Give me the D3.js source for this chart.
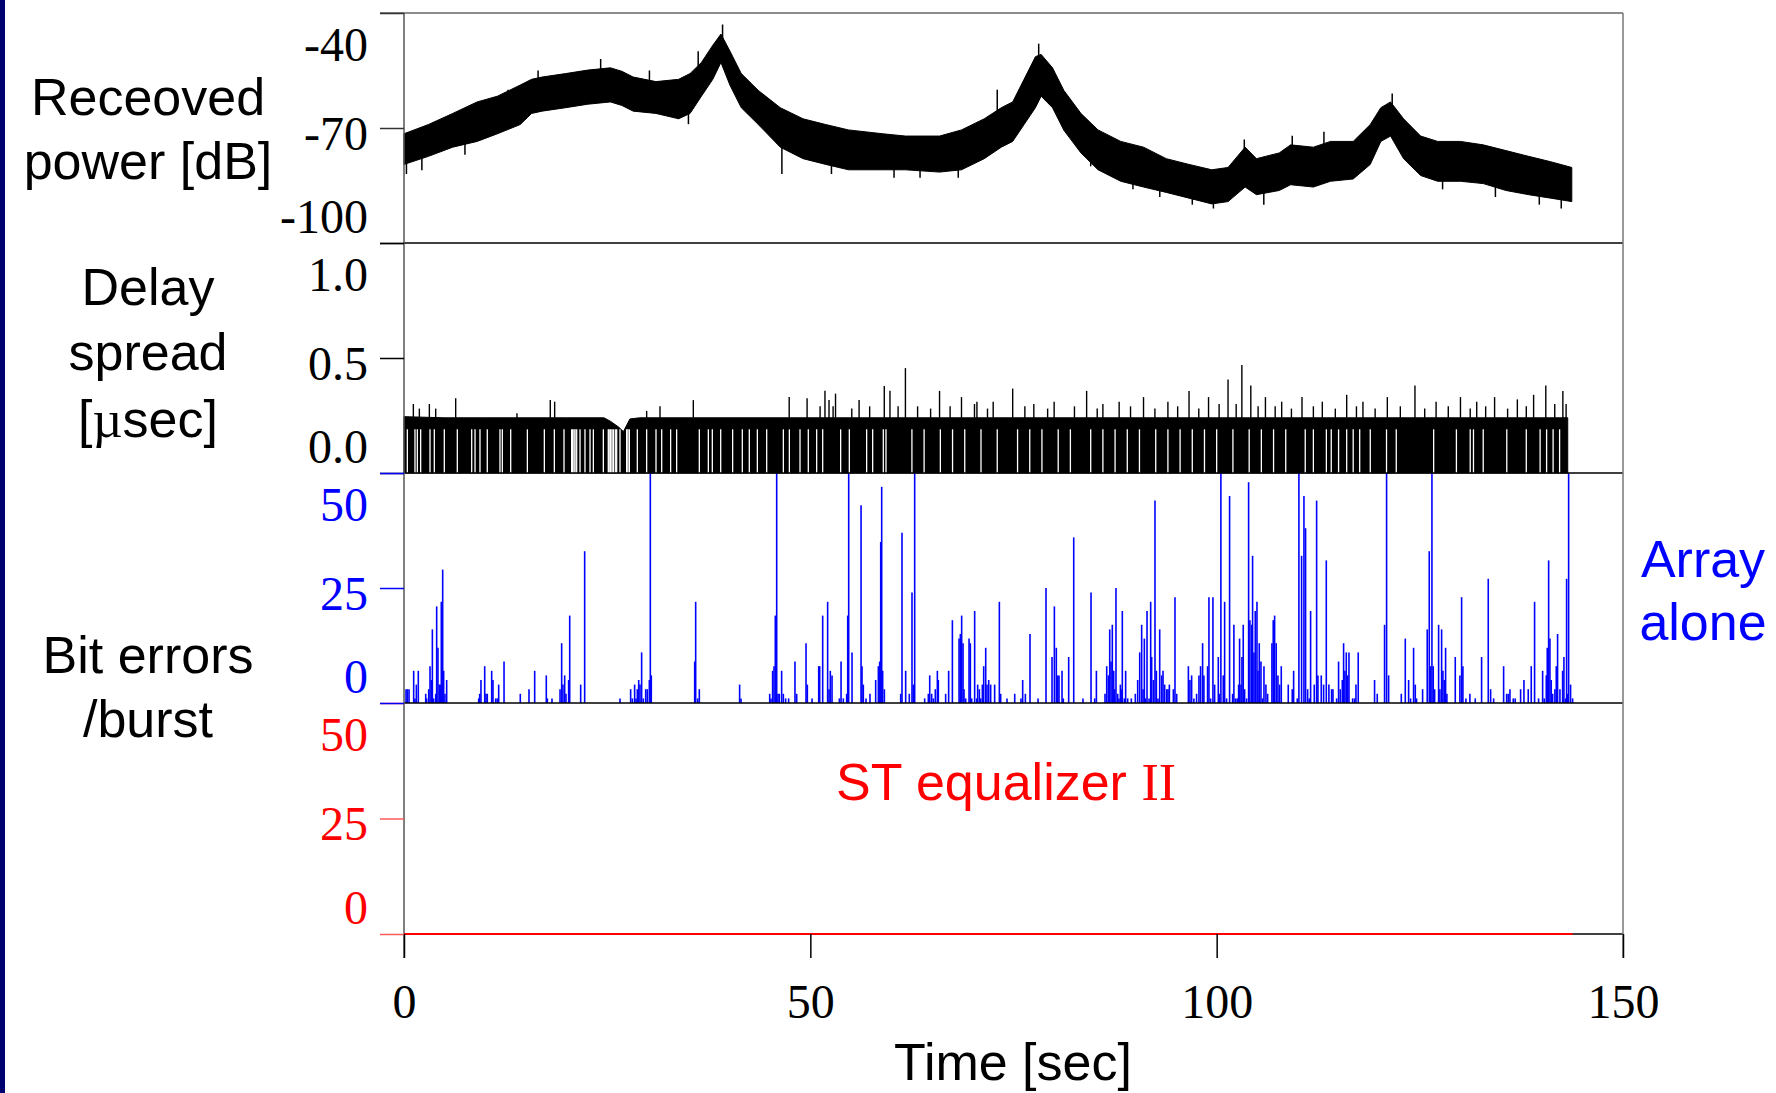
<!DOCTYPE html>
<html lang="en">
<head>
<meta charset="utf-8">
<title>Received power, delay spread and bit errors</title>
<script src="https://d3js.org/d3.v7.min.js"></script>
<style>
  body { margin: 0; background: #fff; }
  svg { display: block; }
</style>
</head>
<body>
<div id="chart"></div>
<script>

// ---- data ----

// received power band: time [s], upper and lower edge [dB]
var powT  = [0,3,6,9,11.5,14.3,15.7,17,19.9,22.6,25.4,26.8,28.2,31,33.8,35.2,36.6,38,39,40.1,41.5,43.6,46.3,49.1,51.9,54.7,58.9,61.7,65.9,68.6,71.4,73.5,74.9,76.3,77.7,78.4,79.8,81.2,83.3,85.4,88.2,91,93.8,96.6,99.4,101.4,103.5,104.9,107.7,109.1,111.9,114,116.8,118.9,120.2,121.4,123,125.1,127.2,130,132.8,135.6,138.4,141.1,143.7];
var powHi = [-71.5,-69.1,-66.2,-63.2,-61.7,-58.8,-57.3,-56.7,-55.8,-54.9,-54.3,-55.2,-56.7,-57.9,-57.3,-55.8,-52.9,-48.4,-45.5,-49.9,-55.8,-60.2,-64.7,-67.6,-69.1,-70.5,-71.5,-72.1,-72.1,-70.5,-67.6,-64.7,-63.2,-57.3,-51.4,-50.8,-54.3,-60.2,-66.2,-70.5,-73.5,-75.0,-78.0,-79.5,-80.9,-80.3,-75.0,-78.0,-76.5,-74.4,-75.0,-73.5,-73.5,-69.1,-64.7,-63.2,-67.6,-72.1,-73.5,-73.5,-74.4,-75.9,-77.4,-78.8,-80.3];
var powLo = [-79.5,-77.4,-75.0,-73.5,-71.5,-69.1,-66.2,-65.6,-64.7,-63.8,-63.2,-64.1,-65.6,-66.2,-67.6,-66.2,-61.7,-57.3,-52.9,-58.8,-64.7,-69.1,-75.0,-78.0,-79.5,-80.9,-80.9,-80.9,-81.5,-80.9,-78.0,-75.0,-73.5,-69.1,-64.7,-61.7,-64.7,-70.6,-76.5,-80.9,-83.9,-85.4,-86.8,-88.3,-89.8,-89.2,-85.4,-87.4,-86.3,-84.8,-85.4,-83.9,-83.3,-79.5,-73.5,-72.1,-78.0,-82.4,-83.9,-83.9,-84.5,-86.3,-87.4,-88.3,-89.2];
// single fades / peaks sticking out of the band: [t, dB]
var powSpikes = [[0.3,-82],[2.2,-81],[7.5,-77],[12.8,-60],[16.5,-55],[24.2,-52],[30.2,-55],[35.0,-69],[36.2,-50],[39.2,-43],[46.5,-82],[52.6,-82],[60.3,-83],[63.5,-83],[68.2,-83],[73.0,-60],[78.1,-48],[84.5,-80],[89.7,-86],[93.0,-88],[97.0,-90],[99.6,-91],[103.4,-73],[105.8,-90],[109.3,-72],[113.2,-71],[121.6,-61],[127.8,-86],[134.3,-88],[139.7,-90],[142.4,-91]];

// delay spread: base level [usec], upward spikes [t, usec], dropout times [s]
var dsT = [0,5,10,20,24.6,25.4,26.4,27.0,27.8,29,40,60,80,100,120,140,143.2];
var dsV = [0.245,0.24,0.24,0.24,0.24,0.225,0.2,0.18,0.235,0.24,0.24,0.24,0.24,0.24,0.24,0.24,0.24];
var dsSpikes = [[1.15,0.30],[1.89,0.28],[3.12,0.30],[3.90,0.28],[6.36,0.325],[13.9,0.26],[18.0,0.317],[18.54,0.31],[29.86,0.27],[31.5,0.29],[35.6,0.317],[47.4,0.33],[49.6,0.325],[51.8,0.358],[52.3,0.317],[53.1,0.345],[56.0,0.317],[59.1,0.378],[59.8,0.358],[61.7,0.456],[65.9,0.357],[68.6,0.33],[70.5,0.31],[72.5,0.31],[74.9,0.367],[77.5,0.30],[80,0.31],[84,0.357],[86,0.30],[88,0.31],[91,0.33],[94,0.31],[96.6,0.357],[99,0.33],[101.4,0.406],[103.1,0.47],[104.2,0.38],[106,0.33],[108,0.31],[110.5,0.33],[113,0.31],[116,0.34],[118,0.31],[121,0.33],[124.4,0.38],[127,0.31],[130,0.33],[132,0.31],[134.2,0.33],[137,0.32],[139,0.34],[140.5,0.38],[142.6,0.357],
  [51.2,0.29],[52.8,0.29],[55.1,0.28],[57.3,0.29],[60.8,0.29],[63.2,0.29],[64.8,0.28],[67.2,0.29],[70.2,0.30],[71.8,0.28],[76.4,0.29],[79.2,0.28],[82.5,0.29],[85.3,0.28],[89.4,0.29],[92.4,0.28],[95.2,0.29],[97.8,0.28],[100.3,0.30],[102.4,0.30],[105.1,0.29],[107.2,0.29],[109.2,0.28],[111.9,0.29],[114.6,0.28],[117.2,0.29],[119.5,0.28],[122.6,0.29],[125.6,0.28],[128.5,0.29],[131.2,0.28],[133.1,0.29],[135.8,0.28],[138.1,0.29],[141.6,0.30],[143.0,0.30]];
var dsDrops = [0.41,1.35,1.64,2.05,3.20,3.73,4.96,6.56,8.33,8.74,9.35,10.25,11.81,12.10,13.13,15.18,17.27,18.50,19.69,20.63,20.75,20.92,21.05,21.25,21.66,22.27,22.89,23.30,24.53,25.14,25.25,25.43,25.6,25.76,26.0,26.17,26.58,27.40,27.55,27.73,28.71,29.86,31.01,31.71,32.81,33.55,36.34,37.45,37.94,38.97,40.44,41.63,42.49,43.48,44.63,46.68,47.42,48.73,49.75,50.78,51.52,53.73,54.80,56.93,57.67,58.98,59.31,62.5,64,66,67.5,69,71,73,75.5,77,78.5,80.5,82,84.5,86,87.5,89,90.5,92.5,94,95.5,97,98.5,100,102,104,105.5,107,108.5,110.9,111.9,113.5,114.1,115.0,116.0,116.8,117.6,118.9,120.9,122.1,126.7,129.5,131.2,131.6,132.8,135.7,138.1,139.8,140.6,141.4,142.2];
var dsDropTop = 0.19;

// bit errors per burst, array alone: [t, errors] (50 = off scale)
var arrayErrors = [[0.25,3],[0.41,3],[0.62,3],[1.19,7],[1.35,1],[1.52,4],[1.76,7],[2.67,2],[2.79,1],[3.04,3],[3.20,8],[3.36,5],[3.49,16],[3.65,1],[3.90,2],[4.02,21],[4.18,12],[4.35,4],[4.47,4],[4.59,22],[4.76,29],[4.88,7],[5.04,2],[5.25,5],
[9.19,1],[9.31,2],[9.47,5],[9.93,8],[10.09,2],[10.25,2],[10.79,7],[10.95,5],[11.28,1],[11.48,1],[11.65,4],[12.31,9],[14.31,2],[15.38,3],[16.08,7],[17.51,6],[17.64,1],[18.21,1],[19.20,3],[19.40,13],[19.56,4],[19.77,6],[19.93,2],[20.26,5],[20.39,19],[21.74,4],[22.23,33],
[26.58,1],[27.89,3],[28.10,1],[28.38,4],[28.55,1],[28.71,3],[28.88,5],[29.04,4],[29.24,11],[29.45,1],[29.74,3],[29.94,3],[30.19,5],[30.31,50],[30.43,6],
[35.77,9],[35.89,22],[36.14,1],[36.34,3],[41.30,4],[41.47,1],
[45.00,2],[45.16,1],[45.36,7],[45.53,8],[45.69,19],[45.86,50],[46.02,2],[46.18,2],[46.47,7],[46.68,2],[46.96,1],[47.33,1],[48.11,9],[48.32,2],
[49.47,13],[49.63,4],[50.21,1],[51.03,8],[51.15,8],[51.52,19],[52.13,22],[52.30,3],[52.46,7],[52.67,6],[53.57,1],[53.78,9],[54.06,1],[54.47,2],[54.60,19],[54.72,50],[55.13,11],[56.24,43],[56.36,8],[56.52,4],[56.85,1],[57.34,2],[58.04,5],[58.37,8],[58.53,9],[58.66,35],[58.78,47],[58.90,7],[59.11,3],[61.12,2],[61.28,37],[61.73,7],[62.18,2],[62.51,24],[62.68,4],[62.84,50],
[64.07,1],[64.52,2],[64.69,6],[64.93,2],[65.14,1],[65.38,3],[65.63,7],[65.75,5],[66.65,2],[67.02,7],[67.48,18],[68.30,14],[68.46,15],[68.62,19],[68.79,13],[68.91,3],[69.12,1],[69.53,14],[69.69,13],[69.85,1],[70.22,20],[70.47,1],[70.59,4],[70.80,3],[70.96,1],[71.17,4],[71.33,8],[71.58,12],[71.74,4],[71.95,5],[72.19,4],[72.68,4],[73.26,22],[73.42,2],[74.20,1],[75.15,2],[75.92,1],[76.13,5],[76.46,2],[77.03,15],[78.02,1],
[79.00,25],[79.74,10],[80.03,21],[80.27,12],[80.44,6],[80.60,6],[80.97,7],[81.13,1],[81.79,10],[82.41,36],[83.55,1],[84.54,24],[84.99,1],[85.20,7],
[86.26,2],[86.47,8],[86.67,6],[86.84,16],[87.00,9],[87.16,17],[87.33,7],[87.45,3],[87.61,25],[87.82,2],[87.98,1],[88.15,4],[88.31,3],[88.39,20],[88.64,1],[88.80,7],[89.05,1],[89.50,1],[89.99,2],[90.28,5],[90.53,11],[90.77,17],[90.94,3],[91.10,14],[91.26,1],[91.43,20],[91.68,1],[91.88,22],[92.00,10],[92.21,5],[92.41,44],[92.58,7],[92.78,1],[92.99,16],[93.23,6],[93.40,7],[93.60,4],[93.85,3],[94.01,3],[94.18,4],[94.67,3],[94.87,23],[95.08,2],[96.52,8],
[96.71,5],[96.92,6],[97.20,1],[97.53,2],[97.82,6],[98.02,8],[98.27,13],[98.43,6],[98.88,8],[99.05,23],[99.25,1],[99.54,23],[99.75,4],[100.20,10],[100.32,2],[100.52,50],[100.81,6],[100.98,22],[101.22,1],[101.59,45],[101.96,2],[102.12,17],[102.33,1],[102.53,1],[102.70,4],[102.82,14],[102.99,4],[103.11,10],[103.27,17],[103.44,3],[103.68,1],[103.93,48],[104.09,18],[104.30,17],[104.42,32],[104.59,11],[104.75,20],[104.96,22],[105.08,7],[105.24,13],[105.45,9],[105.65,1],[105.82,8],[106.06,4],[106.27,2],[106.80,13],[106.96,18],[107.13,19],[107.33,13],[107.54,6],[107.74,4],[107.95,8],[108.81,4],[109.30,3],[109.47,7],[109.92,1],
[110.12,50],[110.45,32],[110.74,45],[110.94,38],[111.19,3],[111.39,1],[111.56,20],[112.01,4],[112.30,44],[112.46,6],[112.87,6],[113.16,4],[113.49,31],[113.81,4],[114.14,3],[114.31,3],[114.76,1],[115.00,9],[115.21,3],[115.46,5],[115.62,13],[115.78,7],[115.95,11],[116.11,6],[116.28,11],[116.73,1],[116.97,1],[117.14,4],[117.42,11],[119.43,5],[119.76,2],[120.66,17],[120.91,50],[121.16,6],
[122.72,2],[123.21,14],[123.62,5],[123.86,1],[124.23,12],[124.44,4],[124.60,1],[125.34,3],[125.91,16],[126.16,33],[126.32,8],[126.49,50],[126.65,8],[126.82,3],[127.31,17],[127.47,3],[127.68,16],[127.84,7],[128.01,5],[128.17,12],[128.33,2],[129.36,10],[129.93,6],[130.14,23],[130.30,8],[130.67,1],[131.16,2],[131.82,1],[132.60,10],[133.42,27],[133.71,3],[134.08,1],
[135.31,8],[135.68,2],[135.88,2],[136.09,3],[136.50,1],[136.74,1],[137.40,3],[137.81,5],[138.34,3],[138.71,8],[139.12,22],[139.61,1],[140.11,7],[140.31,1],[140.56,6],[140.68,12],[140.85,31],[141.01,14],[141.17,5],[141.34,2],[141.62,3],[141.79,8],[141.95,15],[142.24,3],[142.57,7],[142.73,10],[142.94,1],[143.06,27],[143.19,2],[143.31,50],[143.55,4],[143.80,1]];

// bit errors per burst, ST equalizer II: zero all the way
var stT = [0, 143.8];
var stV = [0, 0];

// tick values
var xTicks   = [0, 50, 100, 150];
var powTicks = [-100, -70, -40];
var dsTicks  = [0, 0.5, 1.0];
var errTicks = [0, 25, 50];

// ---- layout ----
var W = 1776, H = 1093;
var left = 404, right = 1623;
var tops = [13, 243, 473, 703], bottoms = [243, 473, 703, 934];
var sans = "'Liberation Sans', Arial, sans-serif";
var serif = "'Liberation Serif', 'Times New Roman', serif";
var blue = "#0000ff", red = "#ff0000";

var svg = d3.select("#chart").append("svg")
    .attr("width", W)
    .attr("height", H);

// navy slide edge on the left
svg.append("rect").attr("x", 0).attr("y", 0).attr("width", 5).attr("height", H).attr("fill", "#00006e");

var x = d3.scaleLinear().domain([0, 150]).range([left, right]);
var yPow = d3.scaleLinear().domain([-100, -40]).range([bottoms[0], tops[0]]);
var yDs  = d3.scaleLinear().domain([0, 1]).range([bottoms[1], tops[1]]);
var yErr = d3.scaleLinear().domain([0, 50]).range([bottoms[2], tops[2]]);
var ySt  = d3.scaleLinear().domain([0, 50]).range([bottoms[3], tops[3]]);

// received power band
var powData = powT.map(function(t, i) { return {t: t, hi: powHi[i], lo: powLo[i]}; });
svg.append("path")
    .datum(powData)
    .attr("d", d3.area()
        .x(function(d) { return x(d.t); })
        .y0(function(d) { return yPow(d.lo); })
        .y1(function(d) { return yPow(d.hi); }))
    .attr("fill", "#000")
    .attr("stroke", "#000")
    .attr("stroke-width", 1);

// fades and peaks: a short line from the band's middle out to the value
var powMid = d3.scaleLinear().domain(powT).range(powT.map(function(t, i) { return (powHi[i] + powLo[i]) / 2; }));
svg.append("g").selectAll("line")
    .data(powSpikes)
    .enter().append("line")
    .attr("x1", function(d) { return x(d[0]); })
    .attr("x2", function(d) { return x(d[0]); })
    .attr("y1", function(d) { return yPow(powMid(d[0])); })
    .attr("y2", function(d) { return yPow(d[1]); })
    .attr("stroke", "#000")
    .attr("stroke-width", 1.5);

// delay spread
var dsData = dsT.map(function(t, i) { return {t: t, v: dsV[i]}; });
svg.append("path")
    .datum(dsData)
    .attr("d", d3.area()
        .x(function(d) { return x(d.t); })
        .y0(yDs(0))
        .y1(function(d) { return yDs(d.v); }))
    .attr("fill", "#000")
    .attr("stroke", "#000")
    .attr("stroke-width", 1);

svg.append("g").selectAll("line")
    .data(dsSpikes)
    .enter().append("line")
    .attr("x1", function(d) { return x(d[0]); })
    .attr("x2", function(d) { return x(d[0]); })
    .attr("y1", yDs(0))
    .attr("y2", function(d) { return yDs(d[1]); })
    .attr("stroke", "#000")
    .attr("stroke-width", 1.4);

svg.append("g").selectAll("line")
    .data(dsDrops)
    .enter().append("line")
    .attr("x1", function(d) { return x(d); })
    .attr("x2", function(d) { return x(d); })
    .attr("y1", yDs(0))
    .attr("y2", yDs(dsDropTop))
    .attr("stroke", "#fff")
    .attr("stroke-width", 1.3);

// bit errors, array alone
svg.append("g").selectAll("line")
    .data(arrayErrors)
    .enter().append("line")
    .attr("x1", function(d) { return x(d[0]); })
    .attr("x2", function(d) { return x(d[0]); })
    .attr("y1", yErr(0))
    .attr("y2", function(d) { return yErr(d[1]); })
    .attr("stroke", blue)
    .attr("stroke-width", 1.6);

// ---- frame ----
var frame = svg.append("g");
bottoms.forEach(function(b) {
  frame.append("line").attr("x1", left).attr("x2", right).attr("y1", b).attr("y2", b)
      .attr("stroke", "#000").attr("stroke-width", 1.5);
});
frame.append("line").attr("x1", left - 24).attr("x2", right).attr("y1", tops[0]).attr("y2", tops[0])
    .attr("stroke", "#666").attr("stroke-width", 1.5);
frame.append("line").attr("x1", left).attr("x2", left).attr("y1", tops[0]).attr("y2", bottoms[3] + 24)
    .attr("stroke", "#555").attr("stroke-width", 1.5);
frame.append("line").attr("x1", right).attr("x2", right).attr("y1", tops[0]).attr("y2", bottoms[3] + 24)
    .attr("stroke", "#777").attr("stroke-width", 1.5);

// ST equalizer II line (on top of the bottom axis)
svg.append("path")
    .datum(stT.map(function(t, i) { return {t: t, v: stV[i]}; }))
    .attr("d", d3.line().x(function(d) { return x(d.t); }).y(function(d) { return ySt(d.v); }))
    .attr("fill", "none")
    .attr("stroke", red)
    .attr("stroke-width", 1.8);

// ---- axes ----
// labels sit inside the panel: bottom one raised, top one lowered
var labelShift = [-11, 21, 47];

function leftAxis(scale, ticks, fmt, color, lineColor) {
  var g = svg.append("g")
      .attr("transform", "translate(" + left + ",0)")
      .call(d3.axisLeft(scale).tickValues(ticks).tickSize(24).tickPadding(12).tickFormat(fmt));
  g.select(".domain").remove();
  g.selectAll(".tick line").attr("stroke", lineColor).attr("stroke-width", 1.5);
  g.selectAll(".tick text")
      .attr("fill", color)
      .attr("font-family", serif)
      .attr("font-size", 48)
      .attr("dy", null)
      .attr("y", function(d, i) { return labelShift[i]; });
  return g;
}

leftAxis(yPow, powTicks, function(d) { return String(d); }, "#000", "#333");
leftAxis(yDs, dsTicks, d3.format(".1f"), "#000", "#000");
leftAxis(ySt, errTicks, function(d) { return String(d); }, red, "#ff5a5a");
leftAxis(yErr, errTicks, function(d) { return String(d); }, blue, blue);

var xg = svg.append("g")
    .attr("transform", "translate(0," + bottoms[3] + ")")
    .call(d3.axisBottom(x).tickValues(xTicks).tickSize(24).tickFormat(function(d) { return String(d); }));
xg.select(".domain").remove();
xg.selectAll(".tick line").attr("stroke", "#000").attr("stroke-width", 1.5);
xg.selectAll(".tick text")
    .attr("fill", "#000")
    .attr("font-family", serif)
    .attr("font-size", 48)
    .attr("dy", null)
    .attr("y", 84);

// ---- titles ----
function label(lines, cx, baselines, color) {
  lines.forEach(function(s, i) {
    svg.append("text")
        .attr("x", cx).attr("y", baselines[i])
        .attr("text-anchor", "middle")
        .attr("font-family", sans)
        .attr("font-size", 52)
        .attr("fill", color)
        .text(s);
  });
}

label(["Receoved", "power [dB]"], 148, [115, 179], "#000");
label(["Delay", "spread"], 148, [305, 370], "#000");
var mu = svg.append("text")
    .attr("x", 148).attr("y", 437)
    .attr("text-anchor", "middle")
    .attr("font-family", sans)
    .attr("font-size", 52);
mu.append("tspan").text("[");
mu.append("tspan").attr("font-family", serif).text("\u00b5");
mu.append("tspan").text("sec]");
label(["Bit errors", "/burst"], 148, [673, 737], "#000");
label(["Array", "alone"], 1703, [577, 640], blue);

var st = svg.append("text")
    .attr("x", 1006).attr("y", 800)
    .attr("text-anchor", "middle")
    .attr("font-size", 52)
    .attr("fill", red);
st.append("tspan").attr("font-family", sans).text("ST equalizer ");
st.append("tspan").attr("font-family", serif).text("II");

label(["Time [sec]"], 1013, [1080], "#000");

</script>
</body>
</html>
